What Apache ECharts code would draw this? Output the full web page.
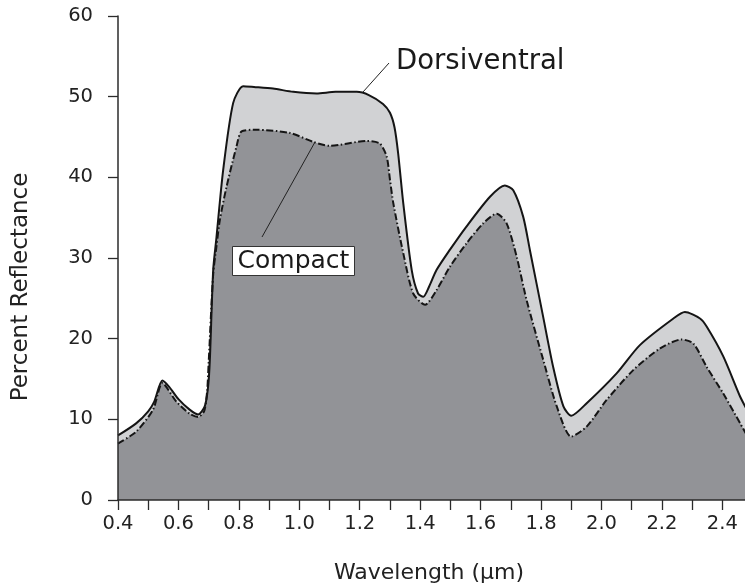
<!DOCTYPE html>
<html>
<head>
<meta charset="utf-8">
<script src="https://cdn.jsdelivr.net/npm/echarts@6/dist/echarts.min.js"></script>
<style>
html,body{margin:0;padding:0;background:#fff;}
#chart{width:745px;height:586px;}
</style>
</head>
<body>
<div id="chart"></div>
<script>
// wavelength (um), percent reflectance
var dorsiventral = [
	[0.40,8.0],[0.46,9.5],[0.50,11.0],[0.52,12.2],[0.547,14.8],[0.57,14.0],[0.60,12.5],
	[0.637,11.2],[0.665,10.6],[0.687,11.6],[0.698,14.0],[0.704,17.4],[0.715,28.5],
	[0.726,32.6],[0.748,40.9],[0.781,49.2],[0.814,51.3],[0.85,51.2],[0.913,51.0],
	[0.98,50.6],[1.057,50.4],[1.12,50.6],[1.19,50.6],[1.23,50.2],[1.277,49.1],
	[1.30,48.0],[1.315,46.2],[1.327,43.0],[1.344,36.8],[1.372,28.5],[1.393,25.6],
	[1.41,25.2],[1.43,26.5],[1.454,28.5],[1.498,31.0],[1.553,33.9],[1.631,37.6],
	[1.68,39.0],[1.708,38.4],[1.741,35.1],[1.763,31.0],[1.807,22.7],[1.84,16.5],
	[1.874,11.6],[1.90,10.45],[1.951,12.0],[2.05,15.7],[2.127,19.2],[2.238,22.5],
	[2.276,23.3],[2.326,22.5],[2.348,21.5],[2.403,17.8],[2.459,12.8],[2.48,11.3]
];
var compact = [
	[0.40,7.0],[0.461,8.5],[0.516,11.2],[0.547,14.5],[0.593,12.2],[0.637,10.7],
	[0.665,10.3],[0.685,11.0],[0.695,13.5],[0.70,17.0],[0.715,28.0],[0.726,31.5],
	[0.737,34.7],[0.759,38.8],[0.792,43.8],[0.809,45.7],[0.858,45.9],[0.969,45.5],
	[1.046,44.4],[1.10,43.9],[1.222,44.5],[1.266,44.2],[1.289,42.6],[1.30,39.7],
	[1.311,36.8],[1.344,30.6],[1.377,25.6],[1.416,24.2],[1.454,26.0],[1.498,28.9],
	[1.553,31.8],[1.609,34.3],[1.653,35.5],[1.686,34.3],[1.719,30.2],[1.752,24.8],
	[1.807,17.4],[1.852,11.6],[1.90,7.85],[1.951,9.1],[2.017,12.4],[2.105,16.1],
	[2.194,18.8],[2.265,19.9],[2.304,19.4],[2.348,16.5],[2.403,13.2],[2.459,9.5],[2.48,8.1]
];
var yTicks = [0,10,20,30,40,50,60];

var font = 'DejaVu Sans';
var myChart = echarts.init(document.getElementById('chart'));
var option = {
	animation: false,
	grid: {
		left: 118, right: -10, top: 16, bottom: 86,
		containLabel: false, outerBoundsMode: 'none'
	},
	xAxis: {
		type: 'value',
		min: 0.4,
		max: 2.508,
		interval: 0.1,
		z: 10,
		axisLine: {lineStyle: {color: '#2b2b2b', width: 1.5}},
		axisTick: {length: 10, lineStyle: {color: '#2b2b2b', width: 1.3}},
		axisLabel: {
			margin: 14,
			fontSize: 19.5,
			fontFamily: font,
			color: '#222',
			formatter: function(v){
				var k = Math.round(v*10);
				return (k % 2 === 0 && k <= 24) ? (k/10).toFixed(1) : '';
			}
		},
		splitLine: {show: false}
	},
	yAxis: {
		type: 'value',
		min: yTicks[0],
		max: yTicks[yTicks.length-1],
		interval: 10,
		z: 10,
		axisLine: {show: true, lineStyle: {color: '#2b2b2b', width: 1.5}},
		axisTick: {show: true, length: 10, lineStyle: {color: '#2b2b2b', width: 1.3}},
		axisLabel: {margin: 25, fontSize: 19.5, fontFamily: font, color: '#222'},
		splitLine: {show: false}
	},
	series: [
		{
			name: 'Dorsiventral area',
			type: 'line',
			data: dorsiventral,
			smooth: 0.25,
			showSymbol: false,
			lineStyle: {width: 0},
			areaStyle: {color: '#d1d2d4', opacity: 1},
			z: 2
		},
		{
			name: 'Compact',
			type: 'line',
			data: compact,
			smooth: 0.25,
			showSymbol: false,
			lineStyle: {color: '#151515', width: 2, type: [7, 2.5, 1.5, 2.5]},
			areaStyle: {color: '#929397', opacity: 1},
			z: 3
		},
		{
			name: 'Dorsiventral',
			type: 'line',
			data: dorsiventral,
			smooth: 0.25,
			showSymbol: false,
			lineStyle: {color: '#151515', width: 2},
			z: 4
		}
	],
	graphic: [
		{type: 'line', z: 100, shape: {x1: 363, y1: 92, x2: 389, y2: 63}, style: {stroke: '#222', lineWidth: 1}},
		{type: 'text', z: 100, x: 396, y: 62, style: {text: 'Dorsiventral', fontSize: 27.5, fontFamily: font, fill: '#1a1a1a', verticalAlign: 'middle'}},
		{type: 'line', z: 100, shape: {x1: 262, y1: 237, x2: 315, y2: 142}, style: {stroke: '#222', lineWidth: 1}},
		{type: 'rect', z: 100, shape: {x: 232.5, y: 246.5, width: 122, height: 29}, style: {fill: '#fff', stroke: '#333', lineWidth: 1}},
		{type: 'text', z: 101, x: 293.5, y: 261, style: {text: 'Compact', fontSize: 25, fontFamily: font, fill: '#1a1a1a', align: 'center', verticalAlign: 'middle'}},
		{type: 'text', z: 100, x: 429, y: 573, style: {text: 'Wavelength (µm)', fontSize: 22, fontFamily: font, fill: '#222', align: 'center', verticalAlign: 'middle'}},
		{type: 'text', z: 100, x: 21, y: 287, rotation: Math.PI/2, style: {text: 'Percent Reflectance', fontSize: 23, fontFamily: font, fill: '#222', align: 'center', verticalAlign: 'middle'}}
	]
};
myChart.setOption(option);
</script>
</body>
</html>
